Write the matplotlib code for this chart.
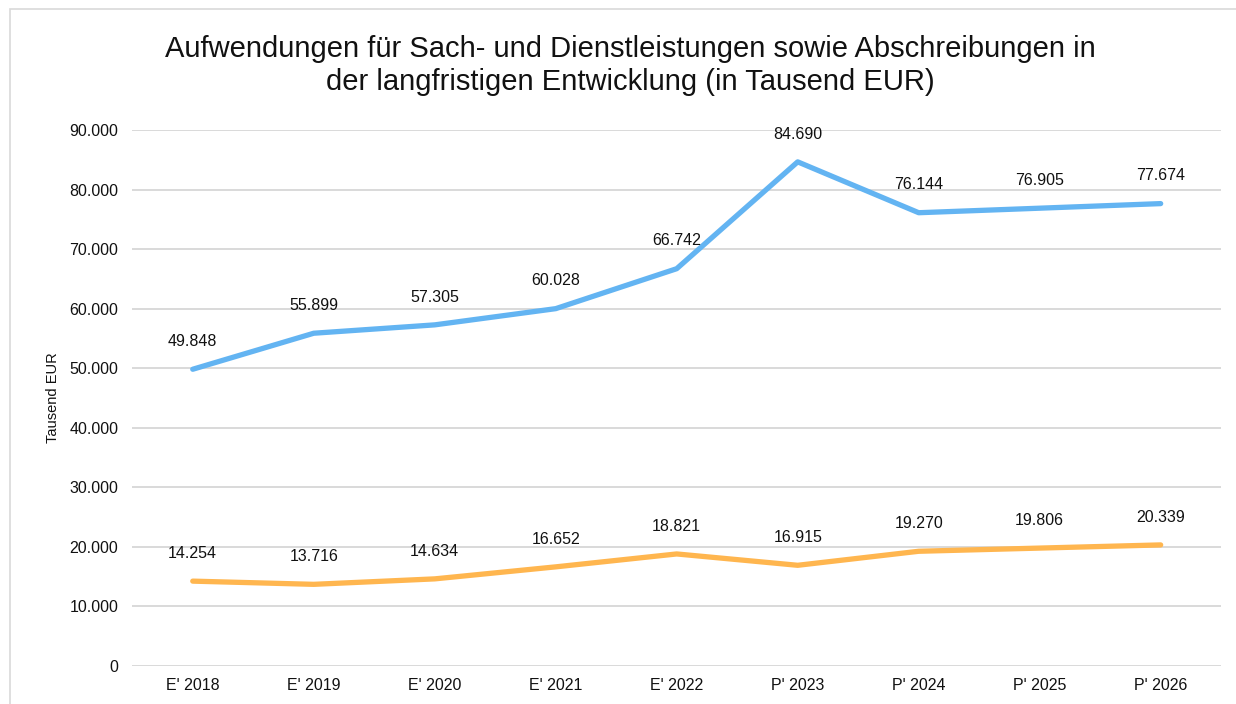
import matplotlib.pyplot as plt
from matplotlib.patches import Rectangle

plt.rcParams['font.family'] = ['Liberation Sans', 'DejaVu Sans']

years = ["E' 2018", "E' 2019", "E' 2020", "E' 2021", "E' 2022",
         "P' 2023", "P' 2024", "P' 2025", "P' 2026"]
sach = [49848, 55899, 57305, 60028, 66742, 84690, 76144, 76905, 77674]
abschreibungen = [14254, 13716, 14634, 16652, 18821, 16915, 19270, 19806, 20339]
yticks = [0, 10000, 20000, 30000, 40000, 50000, 60000, 70000, 80000, 90000]


def fmt(v):
    # german thousands separator
    return f"{v:,}".replace(",", ".")


fig = plt.figure(figsize=(12.36, 7.04), dpi=100)
ax = fig.add_axes([0.107, 0.054, 0.881, 0.761])

x = range(len(years))
ax.plot(x, sach, color='#63B4F2', linewidth=3.8, solid_capstyle='round', zorder=3)
ax.plot(x, abschreibungen, color='#FFB64F', linewidth=3.8, solid_capstyle='round', zorder=3)

for series in (sach, abschreibungen):
    for i, v in enumerate(series):
        ax.annotate(fmt(v), (i, v), xytext=(0, 20), textcoords='offset points',
                    ha='center', va='center', fontsize=11.5, color='#111111')

ax.set_xlim(-0.5, len(years) - 0.5)
ax.set_ylim(0, 90000)
ax.set_xticks(list(x))
ax.set_xticklabels(years)
ax.set_yticks(yticks)
ax.set_yticklabels([fmt(v) for v in yticks])
ax.tick_params(length=0, labelsize=11.5, colors='#111111')
ax.tick_params(axis='y', pad=10)
ax.tick_params(axis='x', pad=9)
ax.grid(axis='y', color='#D9D9D9', linewidth=1.4)
ax.set_axisbelow(True)
for s in ax.spines.values():
    s.set_visible(False)

fig.text(0.0425, 0.435, 'Tausend EUR', rotation=90, ha='center', va='center',
         fontsize=10.5, color='#111111')
fig.text(0.51, 0.907, 'Aufwendungen für Sach- und Dienstleistungen sowie Abschreibungen in\n'
         'der langfristigen Entwicklung (in Tausend EUR)',
         ha='center', va='center', fontsize=21, linespacing=1.2, color='#111111')

# thin frame around the chart area (cut off at the right and bottom)
fig.patches.append(Rectangle((10 / 1236, -0.02), 1.05, 1 - 9 / 704 + 0.02,
                             transform=fig.transFigure, fill=False,
                             edgecolor='#D9D9D9', linewidth=1.2))

fig.savefig('out.png', dpi=100)
